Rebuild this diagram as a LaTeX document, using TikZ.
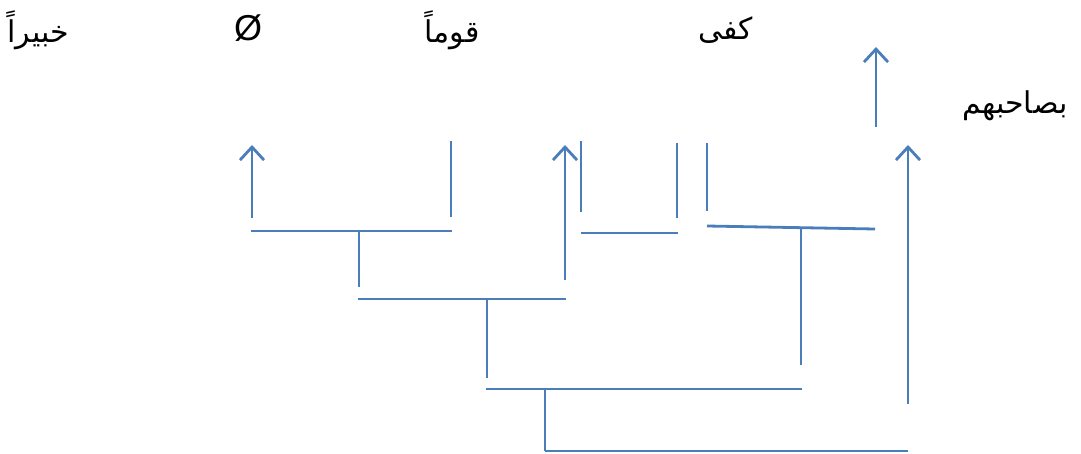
\documentclass[tikz,border=0pt]{standalone}
\usepackage{fontspec}
\usetikzlibrary{arrows.meta}
\newfontfamily\arabicfont[Script=Arabic]{DejaVu Sans}
\newfontfamily\symfont{Liberation Sans}
\TeXXeTstate=1
\definecolor{linkblue}{RGB}{74,126,187}
\newcommand{\ar}[1]{{\arabicfont\beginR #1\endR}}

\begin{document}
\begin{tikzpicture}[x=1pt,y=-1pt,
  link/.style={draw=linkblue,line width=2.8pt},
  up/.style={link,-{Straight Barb[length=13pt,width=24pt,line width=2.8pt]}},
  word/.style={inner sep=0pt,font=\fontsize{30}{36}\selectfont}]
\useasboundingbox (0,0) rectangle (1081,454);
% words on top
\node[word] (khabiran) at (38,30) {\ar{خبيراً}};
\node[word,font=\fontsize{36}{40}\selectfont] (empty) at (248,28) {\symfont Ø};
\node[word] (qawman) at (452,30) {\ar{قوماً}};
\node[word] (kafa) at (726,30) {\ar{كفى}};
\node[word] (bisahibihim) at (1015,106) {\ar{بصاحبهم}};
% first bracket
\draw[up] (252,218) -- (252,145);
\draw[link] (451,141) -- (451,217);
\draw[link] (251,231) -- (452,231);
\draw[link] (359,230) -- (359,287);
% second bracket
\draw[link] (358,299) -- (566,299);
\draw[up] (565,280) -- (565,145);
\draw[link] (487,299) -- (487,378);
% pair under the verb
\draw[link] (581,141) -- (581,212);
\draw[link] (677,143) -- (677,218);
\draw[link] (581,233) -- (678,233);
\draw[link] (707,143) -- (707,211);
\draw[link] (707,226) -- (875,229);
\draw[link] (801,229) -- (801,365);
% lower brackets
\draw[link] (486,389) -- (802,389);
\draw[link] (545,389) -- (545,451);
\draw[link] (545,451) -- (908,451);
\draw[up] (908,404) -- (908,145);
\draw[up] (876,127) -- (876,47);
\end{tikzpicture}
\end{document}
